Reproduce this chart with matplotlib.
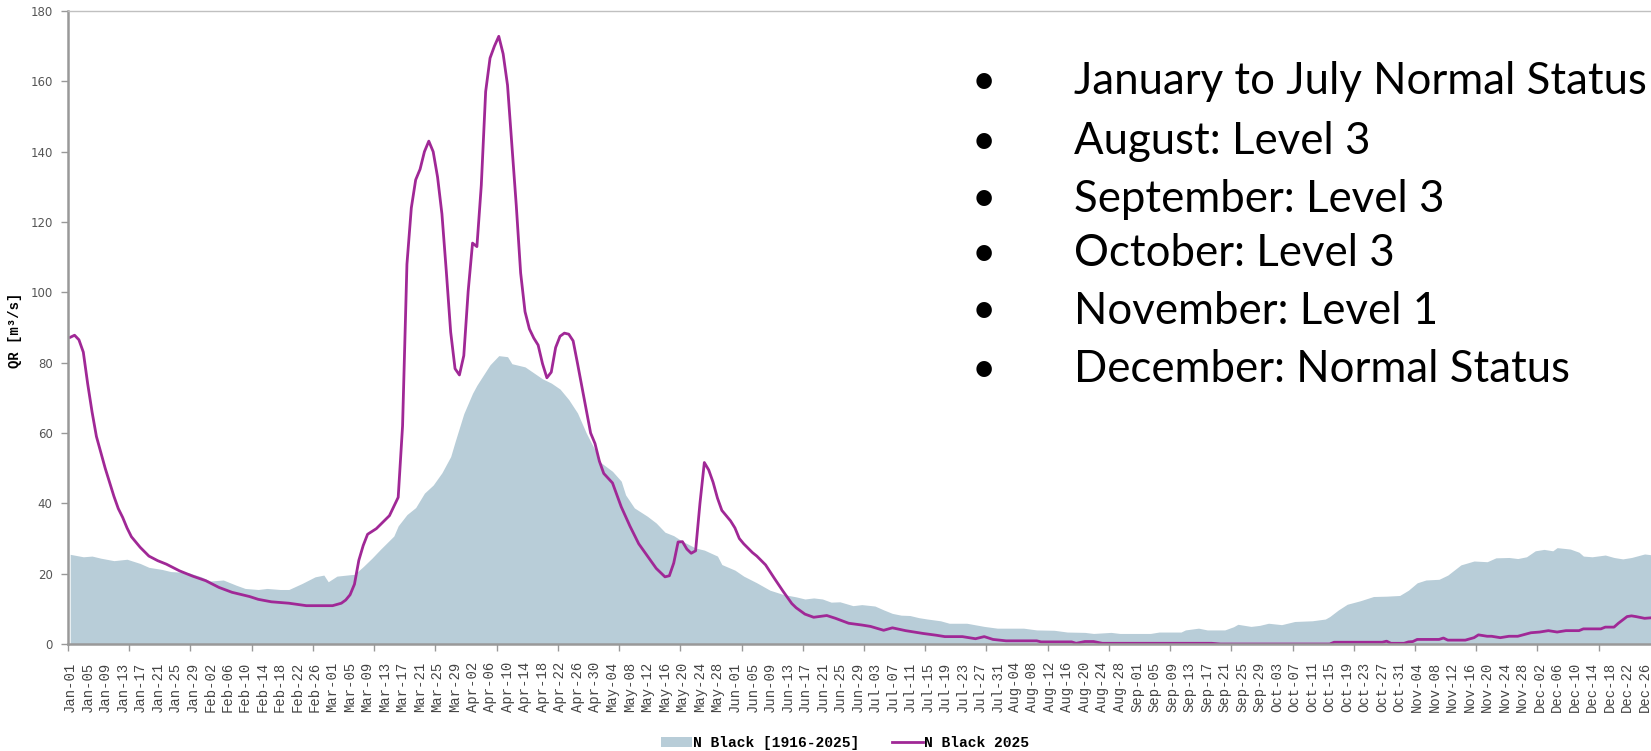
import matplotlib
matplotlib.use("Agg")
import matplotlib.pyplot as plt
import pandas as pd

# long-term flow band (day of year -> m3/s)
hist_days = [0, 3, 5, 7, 10, 13, 16, 18, 21, 23, 27, 30, 32, 35, 38, 40, 43, 45, 48, 50,
             53, 56, 58, 59, 61, 64, 65, 67, 69, 71, 74, 75, 77, 79, 81, 83, 85, 87, 88, 90,
             92, 93, 96, 98, 100, 101, 104, 106, 108, 110, 112, 114, 116, 118, 120, 121, 124, 126, 127, 129,
             132, 134, 136, 138, 140, 143, 145, 148, 149, 152, 154, 157, 160, 163, 166, 168, 170, 172, 174, 176,
             179, 181, 184, 186, 188, 190, 192, 194, 196, 199, 201, 205, 209, 212, 218, 221, 225, 228, 232, 234,
             238, 240, 247, 249, 254, 255, 258, 260, 264, 266, 267, 270, 272, 274, 277, 280, 284, 287, 288, 290,
             292, 295, 298, 301, 304, 306, 308, 310, 313, 315, 318, 321, 324, 326, 329, 331, 333, 335, 337, 339,
             340, 343, 345, 346, 348, 351, 353, 355, 357, 360, 362, 365]
hist_flow = [25.5, 24.8, 25.0, 24.4, 23.7, 24.1, 22.9, 21.8, 21.2, 20.6, 20.3, 19.1, 17.9, 18.2, 16.7, 15.8, 15.5, 15.8, 15.5, 15.5,
             17.2, 19.1, 19.6, 17.7, 19.3, 19.7, 19.8, 22.0, 24.4, 27.0, 30.7, 33.6, 36.8, 38.8, 42.9, 45.2, 48.7, 53.3, 57.5, 65.5,
             71.3, 73.6, 79.4, 82.0, 81.7, 79.7, 78.8, 77.1, 75.4, 74.2, 72.5, 69.5, 65.7, 60.0, 55.2, 51.9, 49.1, 46.3, 42.4, 38.7,
             36.3, 34.4, 31.8, 30.8, 29.2, 27.3, 26.7, 25.0, 22.6, 21.0, 19.3, 17.4, 15.3, 14.1, 13.4, 12.8, 13.1, 12.8, 11.9, 12.0,
             10.9, 11.2, 10.8, 9.7, 8.7, 8.2, 8.1, 7.5, 7.1, 6.6, 5.9, 5.9, 5.0, 4.5, 4.5, 4.0, 3.9, 3.4, 3.3, 3.0,
             3.3, 3.0, 3.0, 3.4, 3.4, 4.0, 4.5, 4.0, 4.0, 4.9, 5.6, 5.0, 5.3, 5.9, 5.5, 6.4, 6.6, 7.1, 7.8, 9.7,
             11.3, 12.3, 13.5, 13.6, 13.8, 15.3, 17.4, 18.2, 18.4, 19.6, 22.5, 23.6, 23.4, 24.5, 24.6, 24.3, 24.8, 26.5, 26.9, 26.5,
             27.4, 27.0, 26.1, 25.0, 24.8, 25.3, 24.6, 24.2, 24.6, 25.6, 25.3, 25.5]

# 2025 flow
y25_days = [0, 1, 2, 3, 4, 5, 6, 7, 8, 9, 10, 11, 12, 13, 14, 16, 18, 20, 22, 25,
            28, 31, 34, 37, 41, 43, 46, 50, 54, 60, 62, 63, 64, 65, 66, 67, 68, 70, 73, 75,
            76, 77, 78, 79, 80, 81, 82, 83, 84, 85, 86, 87, 88, 89, 90, 91, 92, 93, 94, 95,
            96, 97, 98, 99, 100, 101, 102, 103, 104, 105, 106, 107, 108, 109, 110, 111, 112, 113, 114, 115,
            116, 118, 119, 120, 121, 122, 124, 126, 128, 130, 132, 134, 136, 137, 138, 139, 140, 141, 142, 143,
            144, 145, 146, 147, 148, 149, 150, 151, 152, 153, 154, 156, 157, 159, 161, 163, 165, 166, 168, 170,
            173, 175, 178, 181, 183, 186, 188, 191, 195, 198, 200, 204, 207, 209, 211, 214, 221, 222, 229, 230,
            232, 234, 236, 261, 263, 288, 289, 300, 301, 302, 305, 306, 307, 308, 313, 314, 315, 319, 321, 322,
            324, 325, 327, 329, 331, 334, 336, 338, 340, 342, 345, 346, 350, 351, 353, 354, 356, 357, 358, 360,
            362, 365]
y25_flow = [87.2, 87.8, 86.5, 83.0, 74.0, 66.0, 59.0, 54.5, 50.0, 46.0, 42.0, 38.5, 36.0, 33.0, 30.5, 27.5, 25.0, 23.7, 22.7, 20.8,
            19.3, 18.0, 16.1, 14.7, 13.5, 12.7, 12.0, 11.6, 10.9, 10.9, 11.6, 12.5, 14.0, 17.0, 23.8, 28.0, 31.2, 32.8, 36.5, 41.7,
            62.0, 108.0, 124.0, 132.0, 135.0, 140.0, 143.0, 140.0, 132.8, 122.3, 106.0, 88.7, 78.3, 76.5, 82.0, 100.3, 114.0, 113.0, 130.4, 157.1,
            166.6, 170.0, 172.8, 167.8, 158.9, 142.0, 124.7, 105.5, 94.5, 89.6, 87.0, 85.0, 79.7, 75.7, 77.3, 84.3, 87.5, 88.4, 88.1, 86.2,
            79.8, 66.5, 60.0, 57.0, 52.0, 48.5, 45.8, 39.0, 33.5, 28.5, 25.0, 21.5, 19.1, 19.4, 23.0, 29.0, 29.1, 27.0, 25.8, 26.5,
            40.0, 51.6, 49.5, 46.0, 41.5, 38.0, 36.5, 35.0, 33.0, 30.0, 28.5, 26.0, 25.0, 22.5, 18.7, 15.0, 11.5, 10.3, 8.5, 7.6,
            8.1, 7.3, 5.9, 5.4, 5.0, 3.9, 4.6, 3.8, 3.0, 2.5, 2.1, 2.1, 1.5, 2.1, 1.3, 0.9, 0.9, 0.6, 0.6, 0.2,
            0.7, 0.7, 0.2, 0.2, 0.0, 0.0, 0.5, 0.5, 0.8, 0.2, 0.2, 0.6, 0.7, 1.3, 1.3, 1.7, 1.1, 1.1, 1.8, 2.6,
            2.2, 2.2, 1.8, 2.2, 2.2, 3.2, 3.4, 3.8, 3.4, 3.8, 3.8, 4.3, 4.3, 4.8, 4.8, 5.9, 7.8, 8.0, 7.8, 7.3,
            7.5, 7.7]

tick_labels = [d.strftime("%b-%d") for d in pd.date_range("2024-01-01", "2024-12-26", freq="4D")]

notes = ["January to July Normal Status",
         "August: Level 3",
         "September: Level 3",
         "October: Level 3",
         "November: Level 1",
         "December: Normal Status"]

area_color = "#b8cdd8"
line_color = "#a02896"
W, H = 1651, 751

fig = plt.figure(figsize=(W / 100, H / 100), dpi=100)
ax = fig.add_axes([68 / W, 107 / H, 366 * 4.3734 / W, 633 / H])

ax.fill_between(hist_days, hist_flow, 0, color=area_color, lw=0, label="N Black [1916-2025]")
ax.plot(y25_days, y25_flow, color=line_color, lw=2, label="N Black 2025")

ax.set_xlim(-0.5, 365.5)
ax.set_ylim(0, 180)

ax.set_xticks(range(0, 4 * len(tick_labels), 4))
ax.set_xticklabels(tick_labels, rotation=90, family="Liberation Mono", fontsize=10, color="#444")
ax.tick_params(axis="x", which="major", length=0, pad=13)
ax.set_xticks([k - 0.5 for k in range(0, 366, 14)], minor=True)
ax.tick_params(axis="x", which="minor", length=5, width=1, color="#999")

ax.set_yticks(range(0, 181, 20))
ax.tick_params(axis="y", length=5, width=1, color="#999", labelsize=8.5, labelcolor="#555", pad=6)

for s in ["left", "bottom"]:
    ax.spines[s].set_color("#999")
    ax.spines[s].set_linewidth(1.8)
ax.spines["top"].set_color("#c0c0c0")
ax.spines["top"].set_linewidth(1)
ax.spines["right"].set_visible(False)

fig.text(15 / W, 1 - 330 / H, "QR [m³/s]", rotation=90, ha="center", va="center",
         family="Liberation Mono", weight="bold", fontsize=10)

ys = [82, 142, 199, 254, 311, 370]
for y, t in zip(ys, notes):
    fig.text(984 / W, 1 - y / H, "•", ha="center", va="center", fontsize=30, family="Lato")
    fig.text(1074 / W, 1 - y / H, t, ha="left", va="center", fontsize=31.5, family="Lato")

fig.legend(loc="center", bbox_to_anchor=(845 / W, 8 / H), ncol=2, frameon=False,
           prop={"family": "Liberation Mono", "weight": "bold", "size": 10.5},
           handlelength=2.1, handletextpad=0.05, columnspacing=2.3)

fig.savefig("out.png", dpi=100)
